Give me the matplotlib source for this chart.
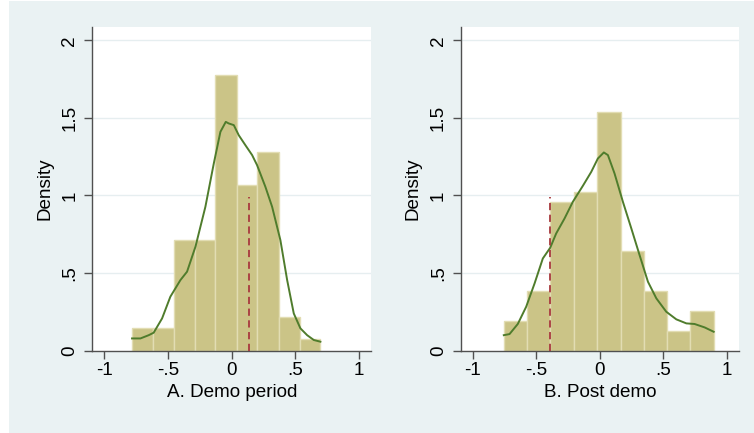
import matplotlib
matplotlib.use('Agg')
import matplotlib.pyplot as plt
from matplotlib.patches import Rectangle

plt.rcParams['font.family'] = ['Liberation Sans', 'DejaVu Sans']

# Datos
demo_edges = [-0.783, -0.618, -0.455, -0.291, -0.128, 0.042, 0.202, 0.372, 0.534, 0.696]
demo_dens = [0.144, 0.144, 0.712, 0.712, 1.779, 1.069, 1.281, 0.217, 0.073]
demo_kx = [-0.783, -0.717, -0.652, -0.613, -0.547, -0.482, -0.403, -0.351, -0.285, -0.207,
           -0.141, -0.089, -0.047, -0.024, 0.016, 0.055, 0.107, 0.160, 0.199, 0.264,
           0.317, 0.382, 0.435, 0.487, 0.539, 0.592, 0.644, 0.696]
demo_ky = [0.079, 0.079, 0.100, 0.116, 0.208, 0.348, 0.455, 0.509, 0.670, 0.927,
           1.206, 1.410, 1.474, 1.464, 1.453, 1.388, 1.324, 1.260, 1.195, 1.056,
           0.927, 0.712, 0.455, 0.240, 0.144, 0.100, 0.069, 0.058]
demo_ref = 0.134

post_edges = [-0.756, -0.575, -0.391, -0.207, -0.026, 0.163, 0.346, 0.530, 0.706, 0.895]
post_dens = [0.193, 0.386, 0.959, 1.024, 1.536, 0.642, 0.386, 0.129, 0.258]
post_kx = [-0.756, -0.711, -0.646, -0.580, -0.514, -0.449, -0.391, -0.344, -0.278, -0.213,
           -0.134, -0.068, -0.016, 0.031, 0.063, 0.115, 0.181, 0.247, 0.312, 0.378,
           0.444, 0.522, 0.601, 0.680, 0.745, 0.824, 0.895]
post_ky = [0.100, 0.107, 0.172, 0.283, 0.433, 0.594, 0.663, 0.755, 0.852, 0.959,
           1.062, 1.152, 1.238, 1.277, 1.260, 1.142, 0.959, 0.788, 0.616, 0.444,
           0.337, 0.251, 0.202, 0.176, 0.172, 0.150, 0.122]
post_ref = -0.391

ref_alto = 0.99
xticks = [-1, -0.5, 0, 0.5, 1]
xtick_lbl = ['-1', '-.5', '0', '.5', '1']
yticks = [0, 0.5, 1, 1.5, 2]
ytick_lbl = ['0', '.5', '1', '1.5', '2']

fondo = '#EAF2F3'
c_barra = '#CBC487'
c_borde = '#E2DDB3'
c_kde = '#4F7C2C'
c_ref = '#A8393E'
fs_txt = 13.6

fig = plt.figure(figsize=(7.54, 4.33), dpi=100)
fig.patch.set_facecolor('white')
fig.patches.append(Rectangle((9 / 754, 0), 1 - 9 / 754, 432 / 433, transform=fig.transFigure,
                             facecolor=fondo, edgecolor='none', zorder=-10))


def panel(rect, edges, dens, kx, ky, ref, titulo, ylab):
    ax = fig.add_axes(rect)
    ax.set_facecolor('white')
    anchos = [edges[i + 1] - edges[i] for i in range(len(dens))]
    ax.bar(edges[:-1], dens, width=anchos, align='edge', color=c_barra,
           edgecolor=c_borde, linewidth=1.0, zorder=2)
    ax.plot(kx, ky, color=c_kde, linewidth=1.4, zorder=3)
    ax.plot([ref, ref], [0, ref_alto], color=c_ref, linewidth=1.3,
            linestyle=(0, (4, 2.5)), zorder=4)
    ax.set_xlim(-1.095, 1.095)
    ax.set_ylim(0, 2.087)
    ax.set_xticks(xticks)
    ax.set_xticklabels(xtick_lbl)
    ax.set_yticks(yticks)
    ax.set_yticklabels(ytick_lbl, rotation=90, va='center')
    for y in yticks[1:]:
        ax.axhline(y, color='#E6EEF0', linewidth=1.0, zorder=1)
    for s in ['top', 'right']:
        ax.spines[s].set_visible(False)
    for s in ['left', 'bottom']:
        ax.spines[s].set_color('#505050')
        ax.spines[s].set_linewidth(1.0)
    ax.tick_params(axis='both', colors='#505050', labelcolor='black',
                   labelsize=fs_txt, length=6, width=1.0)
    ax.tick_params(axis='x', pad=2)
    ax.tick_params(axis='y', pad=4)
    ax.set_xlabel(titulo, fontsize=fs_txt, labelpad=4)
    if ylab:
        ax.set_ylabel('Density', fontsize=fs_txt, labelpad=6)
    return ax


panel([92.3 / 754, 82.3 / 433, 278.9 / 754, 324 / 433], demo_edges, demo_dens,
      demo_kx, demo_ky, demo_ref, 'A. Demo period', True)
panel([460.7 / 754, 82.3 / 433, 278.4 / 754, 324 / 433], post_edges, post_dens,
      post_kx, post_ky, post_ref, 'B. Post demo', True)

fig.savefig('out.png', dpi=100, facecolor=fig.get_facecolor())
